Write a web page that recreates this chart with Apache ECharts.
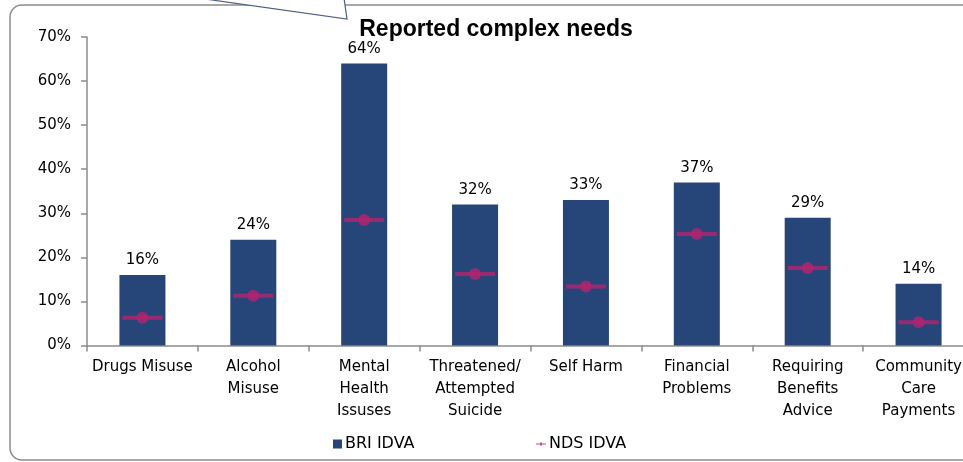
<!DOCTYPE html>
<html>
<head>
<meta charset="utf-8">
<title>Reported complex needs</title>
<script src="https://cdn.jsdelivr.net/npm/echarts@6/dist/echarts.min.js"></script>
<style>
    html, body { margin: 0; padding: 0; background: #fff; }
    #chart { width: 963px; height: 462px; }
</style>
</head>
<body>
<div id="chart"></div>
<script>
// categories and values
const categories = [
    'Drugs Misuse',
    'Alcohol\nMisuse',
    'Mental\nHealth\nIssuses',
    'Threatened/\nAttempted\nSuicide',
    'Self Harm',
    'Financial\nProblems',
    'Requiring\nBenefits\nAdvice',
    'Community\nCare\nPayments'
];
const briIdva = [16, 24, 64, 32, 33, 37, 29, 14];
const ndsIdva = [6.3, 11.3, 28.5, 16.2, 13.4, 25.3, 17.6, 5.3];
const yTicks = [0, 10, 20, 30, 40, 50, 60, 70];

const navy = '#26467a';
const magenta = '#b5236f';
const font = 'DejaVu Sans';

var myChart = echarts.init(document.getElementById('chart'));

myChart.setOption({
    animation: false,
    title: {
        text: 'Reported complex needs',
        left: 491,
        top: 13,
        textAlign: 'center',
        textStyle: {
            fontFamily: 'Liberation Sans',
            fontSize: 23,
            fontWeight: 'bold',
            color: '#000'
        }
    },
    graphic: [
        {
            // chart frame, right edge runs off the picture
            type: 'rect',
            shape: { x: 10, y: 5, width: 1000, height: 455, r: 12 },
            style: { fill: 'none', stroke: '#8c8c8c', lineWidth: 1.5 },
            z: -1
        },
        {
            // callout pointer coming in from above
            type: 'polygon',
            shape: { points: [[198, -2], [347, 19], [344, -2]] },
            style: { fill: '#fff', stroke: '#4a6285', lineWidth: 1.2 },
            z: 10
        }
    ],
    legend: [
        {
            left: 333,
            top: 436,
            padding: 0,
            itemWidth: 9,
            itemHeight: 9,
            textStyle: { fontFamily: font, fontSize: 16, color: '#000', padding: [0, 0, 0, -2] },
            data: [{ name: 'BRI IDVA', icon: 'rect' }]
        },
        {
            left: 536,
            top: 436,
            padding: 0,
            itemWidth: 10,
            itemHeight: 9,
            textStyle: { fontFamily: font, fontSize: 16, color: '#000', padding: [0, 0, 0, -2] },
            data: [{
                name: 'NDS IDVA',
                icon: 'path://M0,4 L4,4 L4,3 L6,3 L6,4 L10,4 L10,5 L6,5 L6,6 L4,6 L4,5 L0,5 Z'
            }]
        }
    ],
    grid: {
        left: 87,
        top: 37,
        width: 887,
        height: 308.5,
        outerBoundsMode: 'none'
    },
    xAxis: {
        type: 'category',
        data: categories,
        axisLine: { lineStyle: { color: '#8c8c8c', width: 1.5 } },
        axisTick: { show: true, length: 6, lineStyle: { color: '#8c8c8c', width: 1.5 } },
        axisLabel: {
            interval: 0,
            margin: 11,
            fontFamily: font,
            fontSize: 15,
            lineHeight: 22,
            color: '#000'
        }
    },
    yAxis: {
        type: 'value',
        min: yTicks[0],
        max: yTicks[yTicks.length - 1],
        interval: 10,
        splitLine: { show: false },
        axisLine: { show: true, lineStyle: { color: '#8c8c8c', width: 1.5 } },
        axisTick: { show: true, length: 6, lineStyle: { color: '#8c8c8c', width: 1.5 } },
        axisLabel: {
            formatter: '{value}%',
            margin: 16,
            fontFamily: font,
            fontSize: 15,
            color: '#000'
        }
    },
    series: [
        {
            name: 'BRI IDVA',
            type: 'bar',
            barWidth: '41.5%',
            data: briIdva,
            itemStyle: { color: navy },
            label: {
                show: true,
                position: 'top',
                distance: 7,
                formatter: '{c}%',
                fontFamily: font,
                fontSize: 15,
                color: '#000'
            }
        },
        {
            name: 'NDS IDVA',
            type: 'scatter',
            symbol: 'rect',
            symbolSize: [40, 4],
            data: ndsIdva,
            itemStyle: { color: magenta },
            z: 3
        },
        {
            name: 'NDS IDVA',
            type: 'scatter',
            symbol: 'circle',
            symbolSize: 12,
            data: ndsIdva,
            itemStyle: { color: magenta },
            z: 4
        }
    ]
});
</script>
</body>
</html>
